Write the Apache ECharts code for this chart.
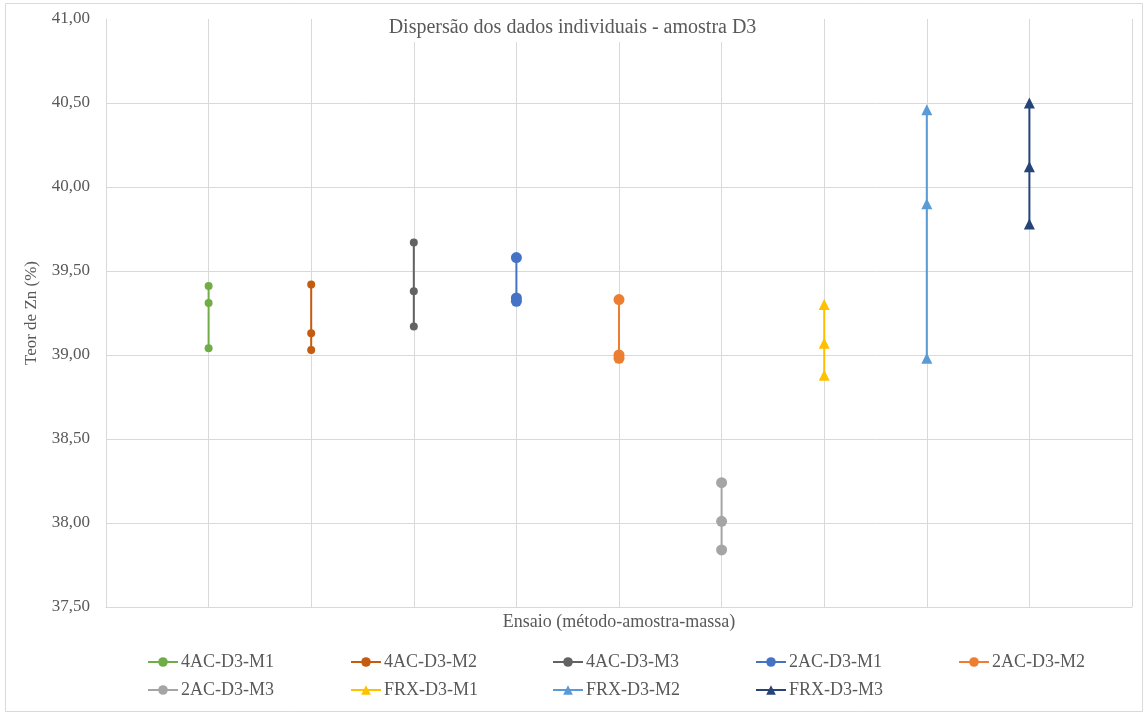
<!DOCTYPE html>
<html>
<head>
<meta charset="utf-8">
<title>Dispersão dos dados individuais - amostra D3</title>
<script src="https://cdn.jsdelivr.net/npm/echarts@6/dist/echarts.min.js"></script>
<style>
  html, body { margin: 0; padding: 0; background: #fff; }
  #chart { width: 1145px; height: 713px; }
</style>
</head>
<body>
<div id="chart"></div>
<script>
// Ensaio names (método-amostra-massa) and their x position on the axis
const seriesNames = [
  '4AC-D3-M1', '4AC-D3-M2', '4AC-D3-M3',
  '2AC-D3-M1', '2AC-D3-M2', '2AC-D3-M3',
  'FRX-D3-M1', 'FRX-D3-M2', 'FRX-D3-M3'
];
const seriesX = [1, 2, 3, 4, 5, 6, 7, 8, 9];

// Individual Zn contents (%) for each ensaio
const ac4_m1 = [39.41, 39.31, 39.04];
const ac4_m2 = [39.42, 39.13, 39.03];
const ac4_m3 = [39.67, 39.38, 39.17];
const ac2_m1 = [39.58, 39.34, 39.32];
const ac2_m2 = [39.33, 39.00, 38.98];
const ac2_m3 = [38.24, 38.01, 37.84];
const frx_m1 = [39.30, 39.07, 38.88];
const frx_m2 = [40.46, 39.90, 38.98];
const frx_m3 = [40.50, 40.12, 39.78];

const seriesValues = [ac4_m1, ac4_m2, ac4_m3, ac2_m1, ac2_m2, ac2_m3, frx_m1, frx_m2, frx_m3];

// Y axis ticks
const yMin = 37.5, yMax = 41.0, yStep = 0.5;

const colors = ['#70AD47', '#C55A11', '#636363', '#4472C4', '#ED7D31', '#A5A5A5', '#FFC000', '#5B9BD5', '#264478'];
const symbols = ['circle', 'circle', 'circle', 'circle', 'circle', 'circle', 'triangle', 'triangle', 'triangle'];
const symbolSizes = [8, 8, 8, 11, 11, 11, 11, 11, 11];

const textColor = '#595959';
const fontFamily = '"Liberation Serif", "DejaVu Serif", serif';

const series = seriesNames.map((name, i) => ({
  name: name,
  type: 'line',
  data: seriesValues[i].map(v => [seriesX[i], v]),
  symbol: symbols[i],
  symbolSize: symbolSizes[i],
  showAllSymbol: true,
  color: colors[i],
  lineStyle: { width: 2, color: colors[i] },
  itemStyle: { color: colors[i] },
  emphasis: { disabled: true },
  animation: false,
  z: 3
}));

// Legend columns / rows
const legendCols = [147, 350, 552, 755, 958];
const legendRows = [653, 681];
const legends = seriesNames.map((name, i) => ({
  data: [name],
  left: legendCols[i % 5],
  top: legendRows[Math.floor(i / 5)],
  padding: 0,
  itemWidth: 30,
  itemHeight: 12,
  itemGap: 3,
  textStyle: { color: textColor, fontFamily: fontFamily, fontSize: 18, padding: [0, 0, 0, -2] },
  selectedMode: false
}));

const chart = echarts.init(document.getElementById('chart'), null, { renderer: 'canvas' });
chart.setOption({
  backgroundColor: '#fff',
  animation: false,
  title: {
    text: 'Dispersão dos dados individuais - amostra D3',
    left: 'center',
    top: 14,
    padding: [4, 8],
    backgroundColor: '#fff',
    textStyle: { color: textColor, fontFamily: fontFamily, fontSize: 20, fontWeight: 'normal' }
  },
  legend: legends,
  grid: { left: 106, right: 13, top: 19, bottom: 106, containLabel: false },
  xAxis: {
    type: 'value',
    min: 0,
    max: 10,
    interval: 1,
    name: 'Ensaio (método-amostra-massa)',
    nameLocation: 'middle',
    nameGap: 6,
    nameTextStyle: { color: textColor, fontFamily: fontFamily, fontSize: 18, verticalAlign: 'top' },
    axisLine: { show: true, lineStyle: { color: '#D9D9D9', width: 1 } },
    axisTick: { show: false },
    axisLabel: { show: false },
    splitLine: { show: true, lineStyle: { color: '#D9D9D9', width: 1 } }
  },
  yAxis: {
    type: 'value',
    min: yMin,
    max: yMax,
    interval: yStep,
    name: 'Teor de Zn (%)',
    nameLocation: 'middle',
    nameGap: 66,
    nameTextStyle: { color: textColor, fontFamily: fontFamily, fontSize: 17 },
    axisLine: { show: true, lineStyle: { color: '#D9D9D9', width: 1 } },
    axisTick: { show: false },
    axisLabel: {
      color: textColor,
      fontFamily: fontFamily,
      fontSize: 17,
      margin: 16,
      formatter: v => v.toFixed(2).replace('.', ',')
    },
    splitLine: { show: true, showMaxLine: false, lineStyle: { color: '#D9D9D9', width: 1 } }
  },
  graphic: [{
    type: 'rect',
    shape: { x: 5.5, y: 3.5, width: 1137, height: 708 },
    style: { fill: 'none', stroke: '#D9D9D9', lineWidth: 1 },
    silent: true,
    z: -1
  }],
  series: series
});
</script>
</body>
</html>
